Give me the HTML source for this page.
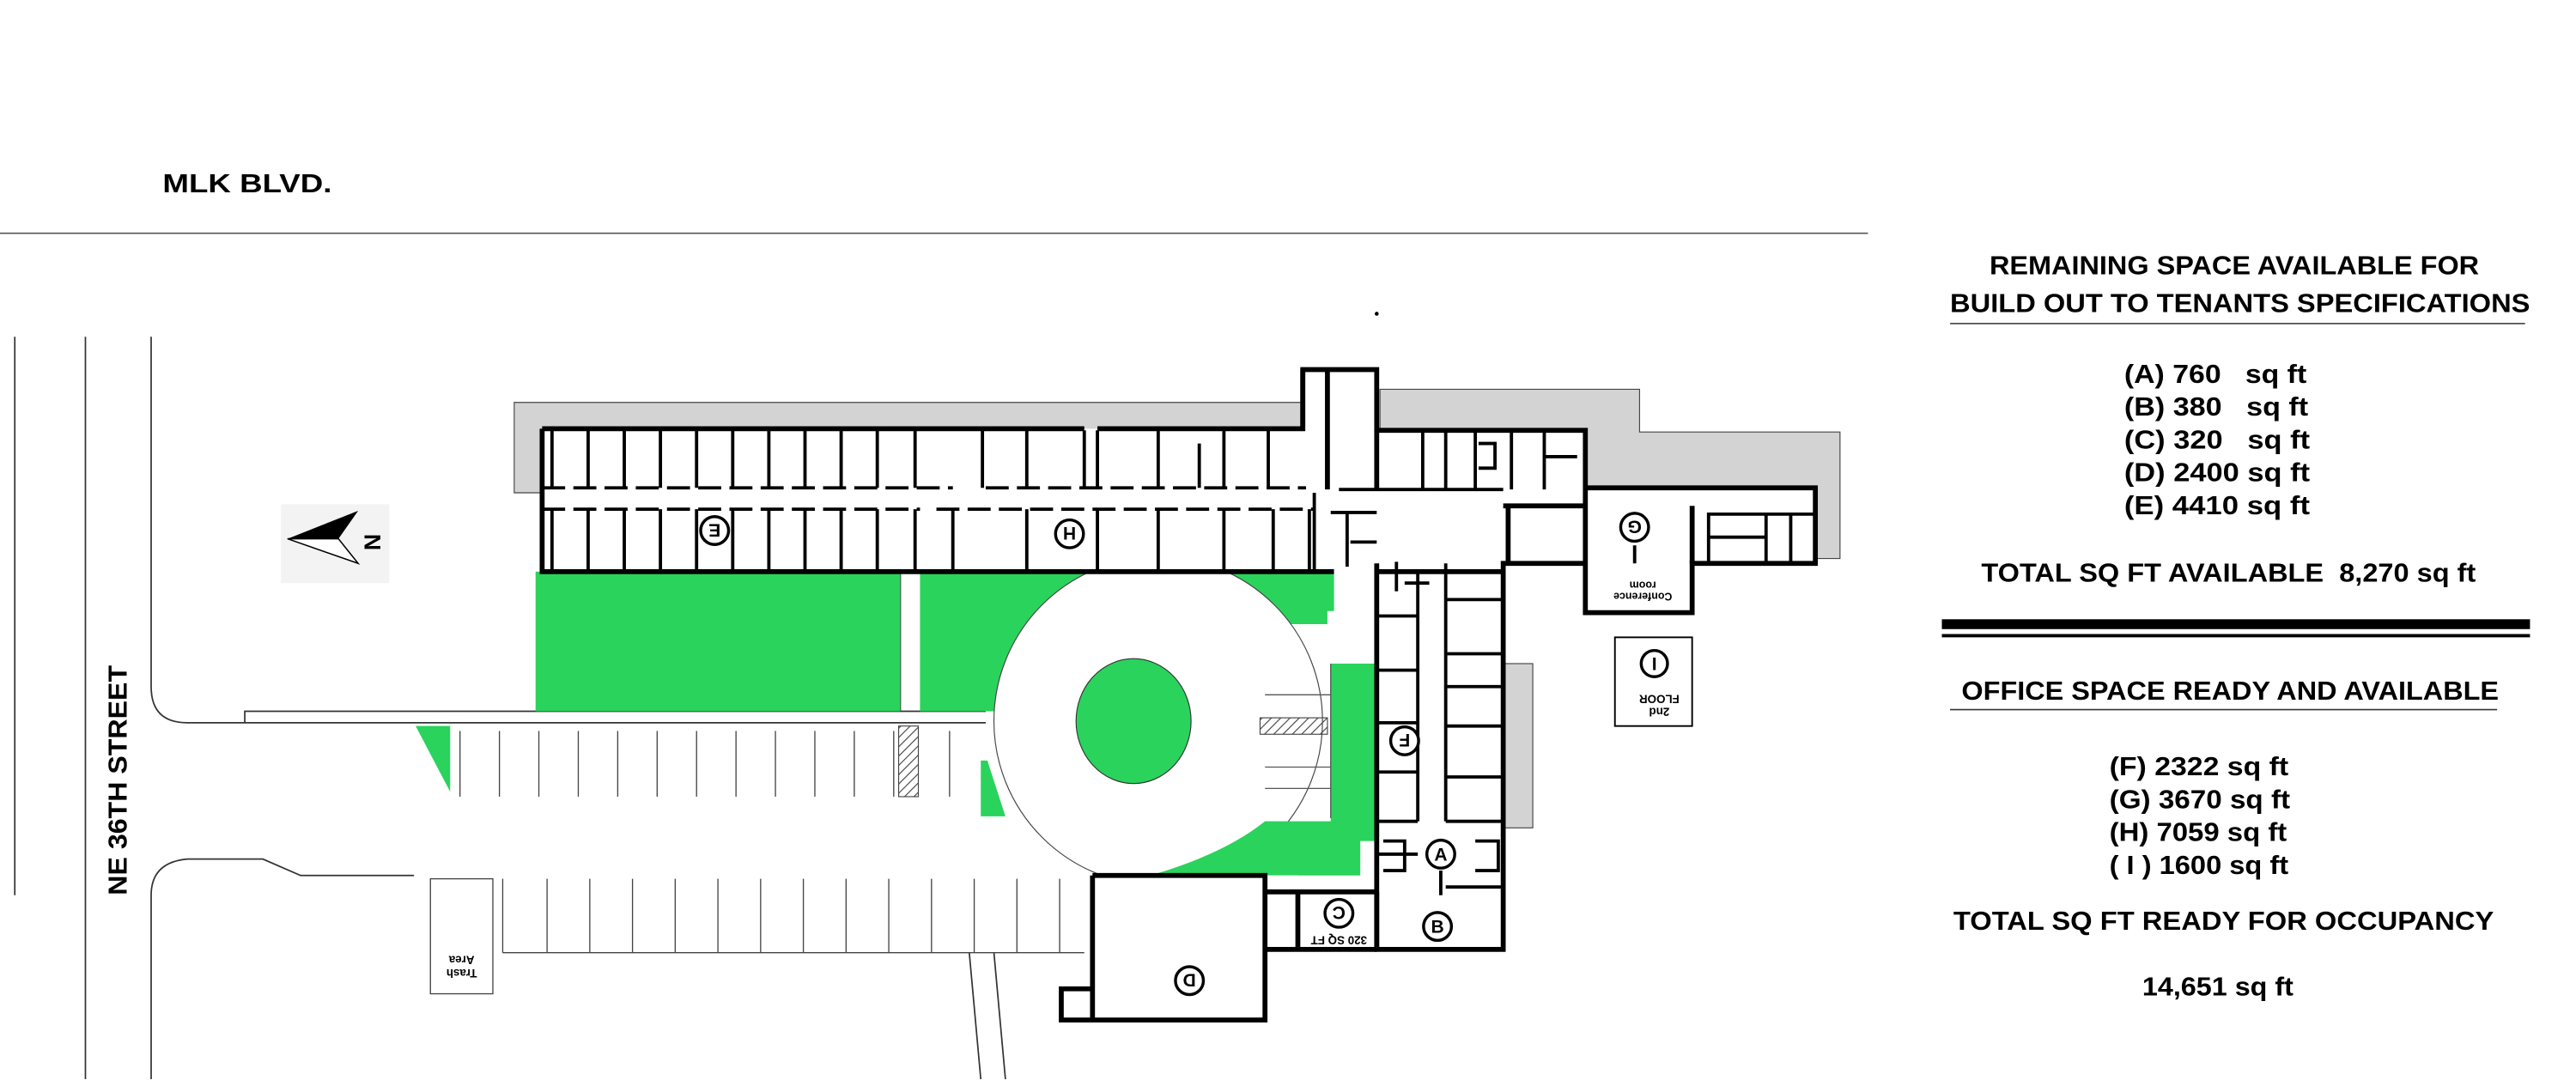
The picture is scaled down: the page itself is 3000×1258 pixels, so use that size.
<!DOCTYPE html>
<html><head><meta charset="utf-8"><style>
html,body{margin:0;padding:0;background:#fff;}
svg{display:block;}
text{font-family:"Liberation Sans",Arial,sans-serif;font-weight:bold;fill:#000;}
</style></head><body>
<svg width="3000" height="1258" viewBox="0 0 1568 657.5" preserveAspectRatio="none" xmlns="http://www.w3.org/2000/svg">
<rect width="1568" height="658" fill="#fff"/>
<text x="99" y="117" font-size="16" textLength="103" lengthAdjust="spacingAndGlyphs">MLK BLVD.</text>
<line x1="0" y1="142" x2="1137" y2="142" stroke="#555" stroke-width="0.8"/>
<g fill="none" stroke="#333" stroke-width="0.9">
<line x1="9" y1="205" x2="9" y2="545"/>
<line x1="52" y1="205" x2="52" y2="657"/>
<path d="M92 205 V418 Q92 440 114 440 H600"/>
<path d="M149 440 V433 H600"/>
<path d="M92 657 V545 Q92 525 114 523 H160 L183 533 H252"/>
<line x1="548" y1="348" x2="548" y2="433"/>
<line x1="590" y1="580" x2="597" y2="657"/>
<line x1="605" y1="580" x2="612" y2="657"/>
</g>
<text transform="translate(77,545) rotate(-90)" font-size="16" textLength="140" lengthAdjust="spacingAndGlyphs">NE 36TH STREET</text>
<rect x="171" y="307" width="66" height="48" fill="#f3f3f3"/>
<path d="M175 328 L218 311 L206 328 Z" fill="#000"/>
<path d="M175 328 L206 328 L218 343 Z" fill="#fff" stroke="#000" stroke-width="0.8"/>
<text transform="translate(222,325) rotate(90)" font-size="14" font-weight="normal">N</text>
<g fill="#d3d3d3" stroke="#444" stroke-width="0.6">
<path d="M313 245 H795 V262 H330 V300 H313 Z"/>
<path d="M840 237 H998 V263 H1120 V340 H1105 V297 H965 V262 H840 Z"/>
<rect x="915" y="404" width="18" height="100"/>
</g>
<g fill="#2ad35c">
<rect x="326" y="348" width="222" height="85"/>
<path d="M560 348 H812 V372 H808 V380 H770 A100 100 0 0 0 610 420 L605 433 H560 Z"/>
<path d="M253 442 H274 V482 Z"/>
<path d="M597 463 L601 463 L612 497 H597 Z"/>
</g>
<circle cx="705" cy="439" r="100" fill="#fff" stroke="#444" stroke-width="0.6"/>
<ellipse cx="690" cy="439" rx="35" ry="38" fill="#2ad35c" stroke="#333" stroke-width="0.6"/>
<g fill="#2ad35c">
<rect x="810" y="404" width="30" height="108"/>
<path d="M700 533 Q745 520 770 500 H828 V533 Z"/>
</g>
<g stroke="#555" stroke-width="0.7">
<line x1="770" y1="423" x2="810" y2="423"/>
<line x1="770" y1="467" x2="810" y2="467"/>
<line x1="770" y1="480" x2="810" y2="480"/>
<line x1="810" y1="404" x2="810" y2="498"/>
</g>
<defs><pattern id="h" width="4" height="4" patternUnits="userSpaceOnUse" patternTransform="rotate(45)"><line x1="0" y1="0" x2="0" y2="4" stroke="#444" stroke-width="1.2"/></pattern></defs>
<rect x="767" y="437" width="41" height="10" fill="url(#h)" stroke="#444" stroke-width="0.6"/>
<rect x="547" y="442" width="12" height="43" fill="url(#h)" stroke="#444" stroke-width="0.6"/>
<g stroke="#444" stroke-width="0.7">
<line x1="280" y1="445" x2="280" y2="485"/><line x1="304" y1="445" x2="304" y2="485"/><line x1="328" y1="445" x2="328" y2="485"/><line x1="352" y1="445" x2="352" y2="485"/><line x1="376" y1="445" x2="376" y2="485"/><line x1="400" y1="445" x2="400" y2="485"/><line x1="424" y1="445" x2="424" y2="485"/><line x1="448" y1="445" x2="448" y2="485"/><line x1="472" y1="445" x2="472" y2="485"/><line x1="496" y1="445" x2="496" y2="485"/><line x1="520" y1="445" x2="520" y2="485"/><line x1="544" y1="445" x2="544" y2="485"/><line x1="578" y1="445" x2="578" y2="485"/>
<line x1="306" y1="535" x2="306" y2="580"/><line x1="333" y1="535" x2="333" y2="580"/><line x1="359" y1="535" x2="359" y2="580"/><line x1="385" y1="535" x2="385" y2="580"/><line x1="411" y1="535" x2="411" y2="580"/><line x1="437" y1="535" x2="437" y2="580"/><line x1="463" y1="535" x2="463" y2="580"/><line x1="489" y1="535" x2="489" y2="580"/><line x1="515" y1="535" x2="515" y2="580"/><line x1="541" y1="535" x2="541" y2="580"/><line x1="567" y1="535" x2="567" y2="580"/><line x1="593" y1="535" x2="593" y2="580"/><line x1="619" y1="535" x2="619" y2="580"/><line x1="645" y1="535" x2="645" y2="580"/>
<line x1="306" y1="580" x2="660" y2="580"/>
</g>
<rect x="262" y="535" width="38" height="70" fill="#fff" stroke="#444" stroke-width="0.7"/>
<text transform="translate(281,590) rotate(180)" font-size="7" font-weight="normal" text-anchor="middle">Trash</text>
<text transform="translate(281,582) rotate(180)" font-size="7" font-weight="normal" text-anchor="middle">Area</text>
<g fill="#fff">
<rect x="330" y="261" width="462" height="87"/>
<rect x="793" y="225" width="45" height="75"/>
<rect x="838" y="262" width="127" height="82"/>
<rect x="965" y="297" width="140" height="46"/>
<rect x="965" y="343" width="65" height="30"/>
<rect x="838" y="343" width="77" height="235"/>
<rect x="790" y="543" width="48" height="35"/>
<path d="M665 533 H790 V602 H770 V621 H646 V602 H665 Z"/>
</g>
<g fill="none" stroke="#000" stroke-width="3">
<path d="M330 261 H660 M668 261 H793 V225 H838 V262 H965 V297 H1105 V343 H1030 V373 H965 V343 M965 297 V343 H915 V578 H838 V543"/>
<path d="M330 261 V348 H812"/>
<path d="M793 225 V262 M808 225 V298 M838 262 V298"/>
<path d="M838 343 V578 M838 348 H915"/>
<path d="M665 533 H770 V543 H838 M790 543 V578 H838 M770 543 V582 M790 578 H770 V621 H665 V533 M665 602 H646 V621 H665"/>
<path d="M915 308 H965 M918 308 V343 M1030 343 V308"/>
</g>
<g fill="none" stroke="#000" stroke-width="2">
<path d="M336 262 V297 M358 262 V297 M380 262 V297 M402 262 V297 M424 262 V297 M446 262 V297 M468 262 V297 M490 262 V297 M512 262 V297 M534 262 V297 M557 262 V297 M598 262 V297 M625 262 V297 M660 262 V297 M668 262 V297 M705 262 V297 M730 270 V297 M745 262 V297 M772 262 V297"/>
<path d="M336 310 V348 M358 310 V348 M380 310 V348 M402 310 V348 M424 310 V348 M446 310 V348 M468 310 V348 M490 310 V348 M512 310 V348 M534 310 V348 M557 310 V348 M580 310 V348 M625 310 V348 M668 310 V348 M705 310 V348 M745 310 V348 M775 310 V348 M797 310 V348"/>
<path d="M330 297 H580 M600 297 H795" stroke-dasharray="14 5"/>
<path d="M330 310 H560 M570 310 H800" stroke-dasharray="14 5"/>
<path d="M866 262 V298 M880 262 V298 M898 262 V298 M920 262 V298 M940 262 V298 M940 278 H960 M900 270 H910 V285 H900"/>
<path d="M838 298 H915 M815 298 H840 M800 300 V348"/>
<path d="M1105 313 H1040 V343 M1040 327 H1075 M1075 313 V343 M1090 313 V343 M995 332 V343"/>
<path d="M880 343 V500 M880 365 H915 M880 398 H915 M880 418 H915 M880 442 H915 M880 473 H915 M880 500 H915 M880 540 H915 M838 375 H863 M838 408 H863 M838 440 H863 M838 470 H863 M838 500 H863 M838 520 H863 M863 348 V500"/>
<path d="M842 512 H855 V530 H842 M898 512 H912 V530 H898 M877 530 V545"/>
<path d="M810 312 H838 M820 312 V345 M822 330 H838 M850 342 V360 M855 355 H870"/>
</g>
<g fill="#fff" stroke="#000" stroke-width="1.8">
<circle cx="435" cy="323" r="8.5"/><circle cx="651" cy="325" r="8.5"/><circle cx="995" cy="321" r="8.5"/>
<circle cx="855" cy="451" r="8.5"/><circle cx="877" cy="520" r="8.5"/><circle cx="875" cy="564" r="8.5"/>
<circle cx="815" cy="556" r="8.5"/><circle cx="724" cy="597" r="8.5"/>
</g>
<g font-size="11" text-anchor="middle" font-weight="normal">
<text transform="translate(435,323) rotate(180)" dy="4">E</text>
<text transform="translate(651,325) rotate(180)" dy="4">H</text>
<text transform="translate(995,321) rotate(180)" dy="4">G</text>
<text transform="translate(855,451) rotate(180)" dy="4">F</text>
<text x="877" y="524">A</text>
<text x="875" y="568">B</text>
<text transform="translate(815,556) rotate(180)" dy="4">C</text>
<text transform="translate(724,597) rotate(180)" dy="4">D</text>
</g>
<text transform="translate(815,570) rotate(180)" font-size="7" font-weight="normal" text-anchor="middle">320 SQ FT</text>
<text transform="translate(1000,361) rotate(180)" font-size="6.5" font-weight="normal" text-anchor="middle">Conference</text>
<text transform="translate(1000,354) rotate(180)" font-size="6.5" font-weight="normal" text-anchor="middle">room</text>
<rect x="983" y="388" width="47" height="54" fill="#fff" stroke="#000" stroke-width="1"/>
<circle cx="1007" cy="404" r="8" fill="#fff" stroke="#000" stroke-width="1.8"/>
<text x="1007" y="408" font-size="11" text-anchor="middle">I</text>
<text transform="translate(1010,431) rotate(180)" font-size="7" font-weight="normal" text-anchor="middle">2nd</text>
<text transform="translate(1010,423) rotate(180)" font-size="7" font-weight="normal" text-anchor="middle">FLOOR</text>
<circle cx="838" cy="191" r="1.2" fill="#000"/>
<g font-size="16" lengthAdjust="spacingAndGlyphs">
<text x="1211" y="167" textLength="298" lengthAdjust="spacingAndGlyphs">REMAINING SPACE AVAILABLE FOR</text>
<text x="1187" y="190" textLength="353" lengthAdjust="spacingAndGlyphs">BUILD OUT TO  TENANTS SPECIFICATIONS</text>
<text x="1293" y="233" xml:space="preserve" textLength="111" lengthAdjust="spacingAndGlyphs">(A) 760   sq ft</text>
<text x="1293" y="253" xml:space="preserve" textLength="112" lengthAdjust="spacingAndGlyphs">(B) 380   sq ft</text>
<text x="1293" y="273" xml:space="preserve" textLength="113" lengthAdjust="spacingAndGlyphs">(C) 320   sq ft</text>
<text x="1293" y="293" textLength="113" lengthAdjust="spacingAndGlyphs">(D) 2400 sq ft</text>
<text x="1293" y="313" textLength="113" lengthAdjust="spacingAndGlyphs">(E) 4410 sq ft</text>
<text x="1206" y="354" textLength="301" lengthAdjust="spacingAndGlyphs" xml:space="preserve">TOTAL SQ FT AVAILABLE  8,270 sq ft</text>
<text x="1194" y="426" textLength="327" lengthAdjust="spacingAndGlyphs">OFFICE SPACE READY AND AVAILABLE</text>
<text x="1284" y="472" textLength="109" lengthAdjust="spacingAndGlyphs">(F)  2322 sq ft</text>
<text x="1284" y="492" textLength="110" lengthAdjust="spacingAndGlyphs">(G) 3670 sq ft</text>
<text x="1284" y="512" textLength="108" lengthAdjust="spacingAndGlyphs">(H) 7059 sq ft</text>
<text x="1284" y="532" textLength="109" lengthAdjust="spacingAndGlyphs">( I ) 1600 sq ft</text>
<text x="1189" y="566" textLength="329" lengthAdjust="spacingAndGlyphs">TOTAL SQ FT READY FOR OCCUPANCY</text>
<text x="1304" y="606" textLength="92" lengthAdjust="spacingAndGlyphs">14,651 sq ft</text>
</g>
<line x1="1187" y1="197" x2="1537" y2="197" stroke="#333" stroke-width="0.8"/>
<rect x="1182" y="377" width="358" height="6" fill="#000"/>
<rect x="1182" y="386" width="358" height="2" fill="#000"/>
<line x1="1187" y1="432" x2="1520" y2="432" stroke="#333" stroke-width="0.8"/>
</svg>
</body></html>
